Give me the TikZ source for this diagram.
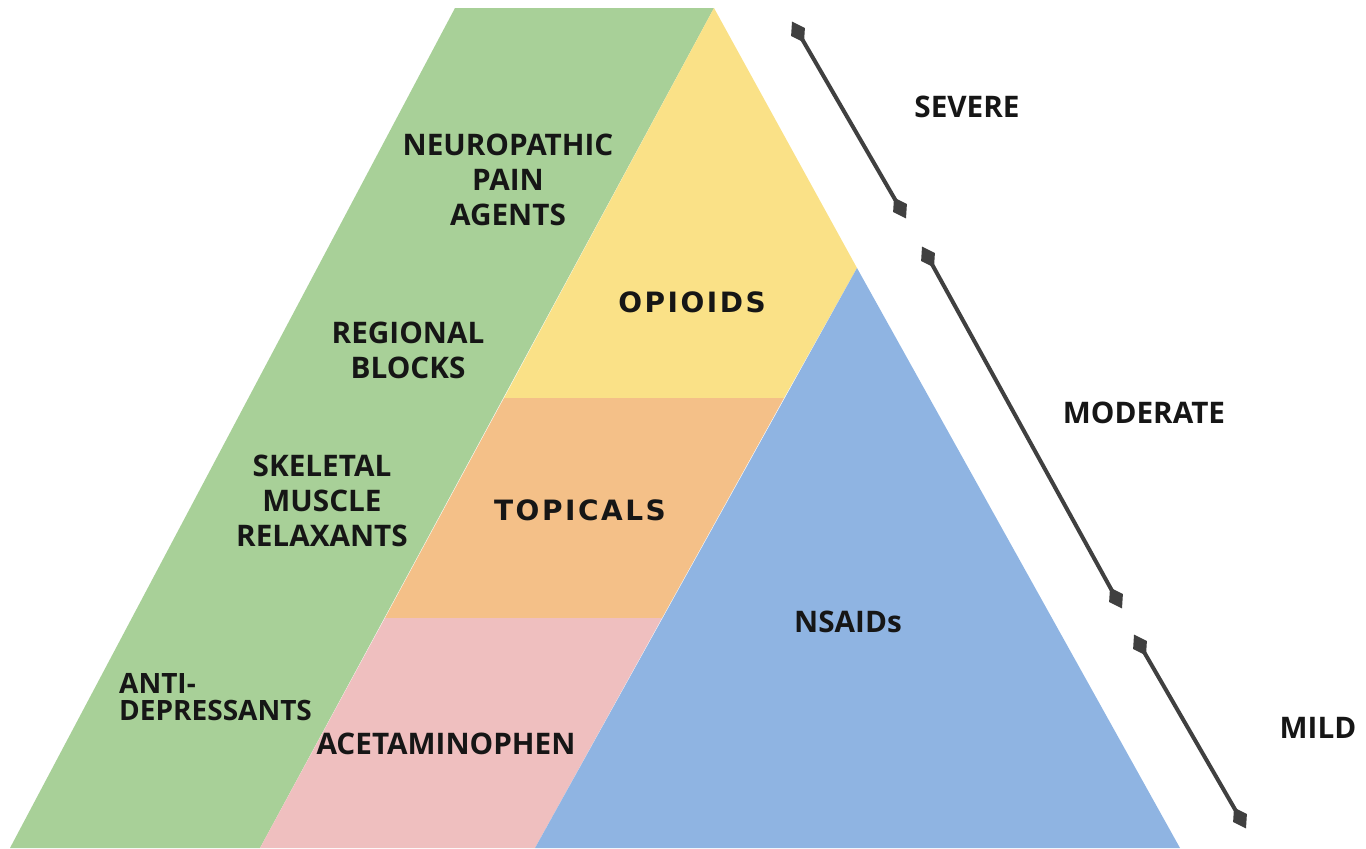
\documentclass[tikz,border=0pt]{standalone}
\usepackage{fontspec}
\setmainfont{Open Sans}
\newfontfamily\wideb{DejaVu Sans}[LetterSpace=9]
\usetikzlibrary{calc}
\definecolor{cgreen}{RGB}{168,208,152}
\definecolor{cyellow}{RGB}{250,225,135}
\definecolor{corange}{RGB}{244,192,136}
\definecolor{cpink}{RGB}{239,191,191}
\definecolor{cblue}{RGB}{143,180,226}
\definecolor{cbar}{RGB}{64,64,64}
\definecolor{ctext}{RGB}{22,22,22}
\begin{document}
\begin{tikzpicture}[x=1pt,y=-1pt,
  lbl/.style={text=ctext,font=\fontsize{29.7}{35}\selectfont\bfseries,align=center,inner sep=0pt},
  lblwide/.style={text=ctext,font=\wideb\fontsize{28}{35}\selectfont\bfseries,align=center,inner sep=0pt},
  lblsmall/.style={text=ctext,font=\fontsize{28}{27.5}\selectfont\bfseries,align=left,inner sep=0pt},
  bar/.style={draw=cbar,line width=4pt}]
\useasboundingbox (0,0) rectangle (1366,849);
% key points
\coordinate (apex) at (714,8);
\coordinate (gtl) at (455,8);
\coordinate (gbl) at (10,848);
\coordinate (gbr) at (260,848);
\coordinate (yl) at (504,398);
\coordinate (yr) at (784,398);
\coordinate (bapex) at (857,268);
\coordinate (ol) at (385,618);
\coordinate (or) at (662,618);
\coordinate (bbl) at (535,848);
\coordinate (bbr) at (1180,848);
% regions
\fill[cgreen] (gtl) -- (apex) -- (gbr) -- (gbl) -- cycle;
\fill[cyellow] (apex) -- (bapex) -- (yr) -- (yl) -- cycle;
\fill[corange] (yl) -- (yr) -- (or) -- (ol) -- cycle;
\fill[cpink] (ol) -- (or) -- (bbl) -- (gbr) -- cycle;
\fill[cblue] (bapex) -- (bbr) -- (bbl) -- cycle;
% scale bars
\coordinate (s1a) at (798,32);
\coordinate (s1b) at (900,208);
\coordinate (s2a) at (928,257);
\coordinate (s2b) at (1116,598);
\coordinate (s3a) at (1140,645);
\coordinate (s3b) at (1240,818);
\draw[bar] (s1a) -- (s1b);
\draw[bar] (s2a) -- (s2b);
\draw[bar] (s3a) -- (s3b);
% diamond ends, drawn along each bar (unit direction about (0.5,0.87))
\foreach \p in {s1a,s1b,s2a,s2b,s3a,s3b}{
  \fill[cbar] ($(\p)+(-6,-10.4)$) -- ($(\p)+(6.9,-4)$) -- ($(\p)+(6,10.4)$) -- ($(\p)+(-6.9,4)$) -- cycle;
}
% labels
\node[lbl] (neuro) at (508,180) {NEUROPATHIC\\PAIN\\AGENTS};
\node[lbl] (regional) at (408,350) {REGIONAL\\BLOCKS};
\node[lbl] (skeletal) at (322,501) {SKELETAL\\MUSCLE\\RELAXANTS};
\node[lblsmall,anchor=west] (anti) at (119,697) {ANTI-\\DEPRESSANTS};
\node[lbl] (acet) at (446,744) {ACETAMINOPHEN};
\node[lblwide] (opioids) at (692,302) {OPIOIDS};
\node[lblwide] (topicals) at (580,510) {TOPICALS};
\node[lbl] (nsaids) at (848,622) {NSAIDs};
\node[lbl] (severe) at (967,107) {SEVERE};
\node[lbl] (moderate) at (1144,413) {MODERATE};
\node[lbl] (mild) at (1318,728) {MILD};
\end{tikzpicture}
\end{document}
